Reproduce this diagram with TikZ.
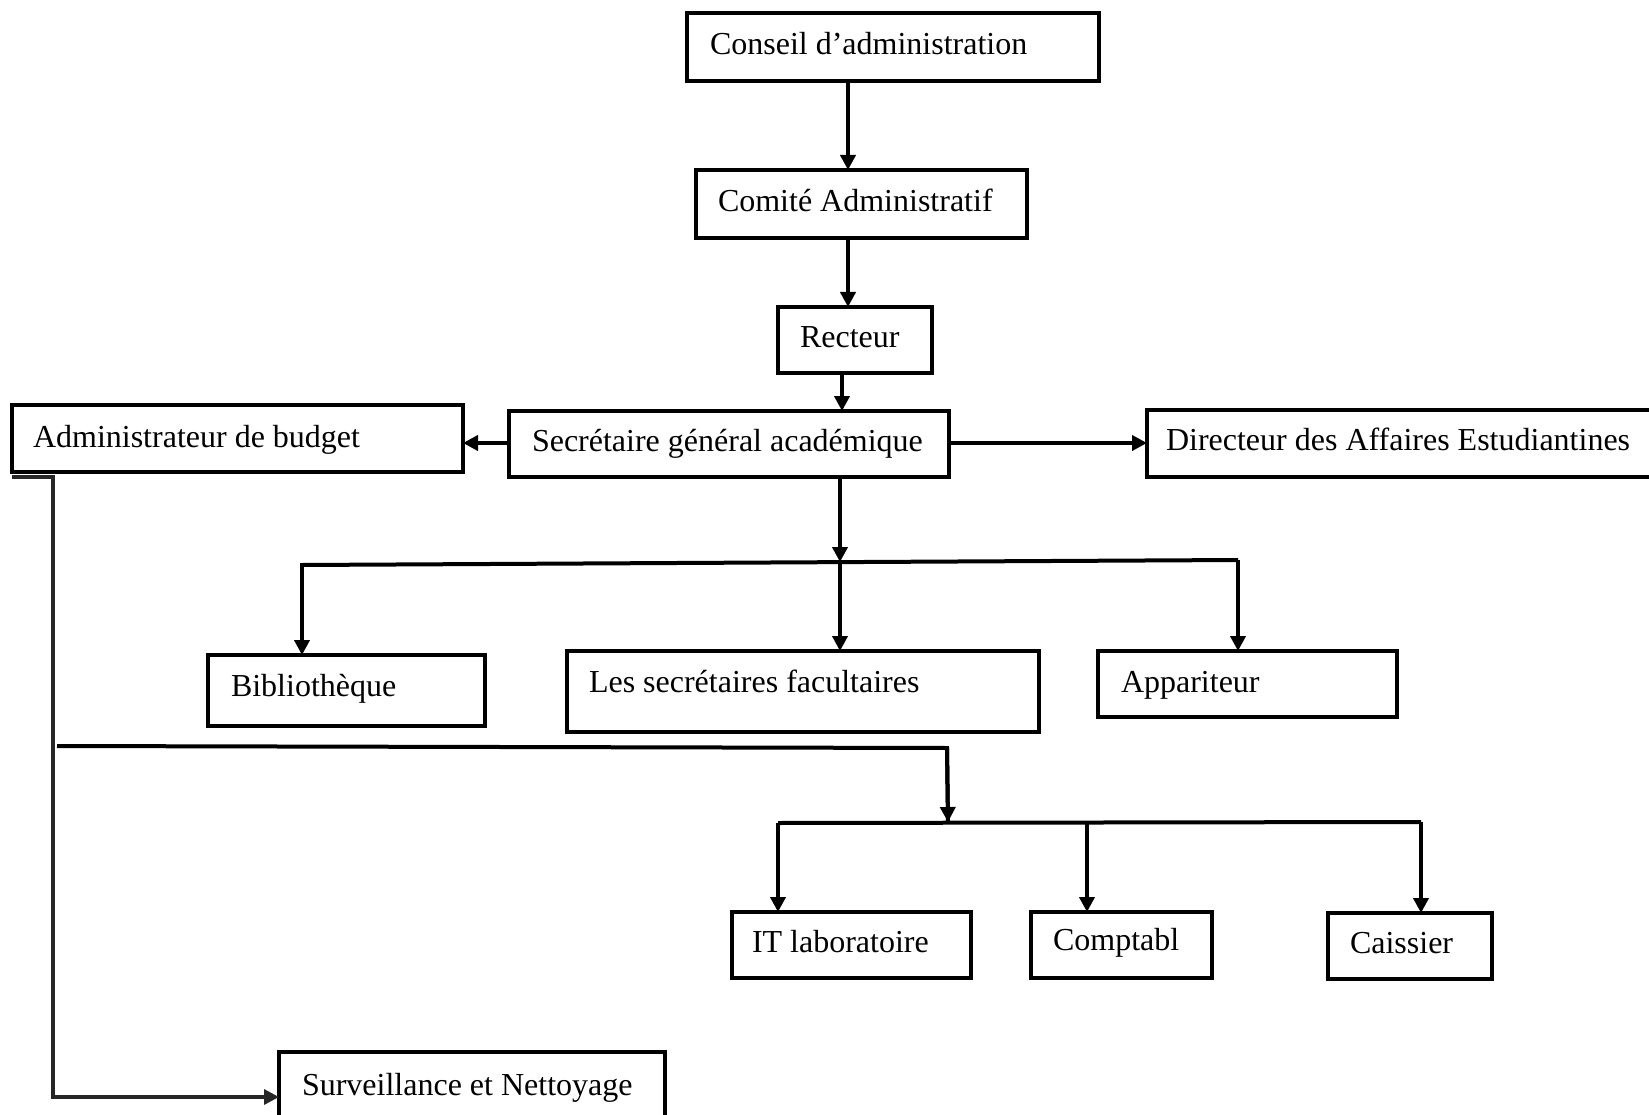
\documentclass[tikz,border=0pt]{standalone}
\usepackage{fontspec}
\setmainfont{Liberation Serif}
\usetikzlibrary{arrows.meta}
\tikzset{
  box/.style={draw=black, line width=3.5pt, rectangle, inner sep=0pt, outer sep=0pt, anchor=north west, fill=white},
  lbl/.style={inner sep=0pt, outer sep=0pt, anchor=base west, font=\fontsize{32}{38}\selectfont},
  ln/.style={draw=black, line width=4pt},
  arr/.style={ln, -{Triangle[width=15pt,length=15pt]}},
  thin/.style={draw=black!85, line width=3.2pt},
  thinarr/.style={thin, -{Triangle[width=15pt,length=15pt]}}
}
\begin{document}
\begin{tikzpicture}[x=1pt,y=-1pt]
\useasboundingbox (0,0) rectangle (1649,1115);
\clip (0,0) rectangle (1649,1115);
\fill[white] (0,0) rectangle (1649,1115);

% boxes
\node[box, minimum width=412pt, minimum height=68pt] (conseil) at (687,13) {};
\node[box, minimum width=331pt, minimum height=68pt] (comite) at (696,170) {};
\node[box, minimum width=154pt, minimum height=66pt] (recteur) at (778,307) {};
\node[box, minimum width=440pt, minimum height=66pt] (sga) at (509,411) {};
\node[box, minimum width=451pt, minimum height=67pt] (budget) at (12,405) {};
\node[box, minimum width=520pt, minimum height=67pt] (dir) at (1147,410) {};
\node[box, minimum width=277pt, minimum height=71pt] (bib) at (208,655) {};
\node[box, minimum width=472pt, minimum height=81pt] (secr) at (567,651) {};
\node[box, minimum width=299pt, minimum height=66pt] (app) at (1098,651) {};
\node[box, minimum width=239pt, minimum height=66pt] (it) at (732,912) {};
\node[box, minimum width=181pt, minimum height=66pt] (compta) at (1031,912) {};
\node[box, minimum width=164pt, minimum height=66pt] (caisse) at (1328,913) {};
\node[box, minimum width=386pt, minimum height=90pt] (surv) at (279,1052) {};

% labels
\node[lbl] (conseil-t) at (710,55) {Conseil d’administration};
\node[lbl] (comite-t) at (718,212) {Comité Administratif};
\node[lbl] (recteur-t) at (800,348) {Recteur};
\node[lbl] (sga-t) at (532,451) {Secrétaire général académique};
\node[lbl] (budget-t) at (33,447) {Administrateur de budget};
\node[lbl] (dir-t) at (1166,450) {Directeur des Affaires Estudiantines};
\node[lbl] (bib-t) at (231,696) {Bibliothèque};
\node[lbl] (secr-t) at (589,692) {Les secrétaires facultaires};
\node[lbl] (app-t) at (1121,692) {Appariteur};
\node[lbl] (it-t) at (752,952) {IT laboratoire};
\node[lbl] (compta-t) at (1053,950) {Comptabl};
\node[lbl] (caisse-t) at (1350,953) {Caissier};
\node[lbl] (surv-t) at (302,1095) {Surveillance et Nettoyage};

% helper coordinates
\coordinate (x1) at (848,0);
\coordinate (x2) at (842,0);
\coordinate (y1) at (0,443);
\coordinate (bl) at (302,565);
\coordinate (br) at (1238,560);
\coordinate (j1) at (840,562);
\coordinate (b1) at (53,477);
\coordinate (b2) at (53,1097);
\coordinate (h1) at (57,746);
\coordinate (h2) at (947,748);
\coordinate (j2) at (948,822);
\coordinate (ml) at (778,823);
\coordinate (mr) at (1421,822);
\coordinate (mc) at (1087,822);

% top chain
\draw[arr] (conseil.south -| x1) -- (comite.north -| x1);
\draw[arr] (comite.south -| x1) -- (recteur.north -| x1);
\draw[arr] (recteur.south -| x2) -- (sga.north -| x2);

% sides
\draw[arr] (sga.west |- y1) -- (budget.east |- y1);
\draw[arr] (sga.east |- y1) -- (dir.west |- y1);

% first branch
\draw[arr] (sga.south -| j1) -- (j1);
\draw[ln] (bl) -- (br);
\draw[ln] (bl) -- ++(0,-2);
\draw[arr] (bl) -- (bib.north -| bl);
\draw[arr] (j1) -- (secr.north -| j1);
\draw[arr] (br) -- (app.north -| br);

% budget branch
\draw[thinarr] (budget.south west |- b1) -- (b1) -- (b2) -- (b2 -| surv.west);
\draw[ln] (h1) -- (h2) -- (j2);
\draw[arr] (h2) -- (j2);
\draw[ln] (ml) -- (mr);
\draw[arr] (ml) -- (it.north -| ml);
\draw[arr] (mc) -- (compta.north -| mc);
\draw[arr] (mr) -- (caisse.north -| mr);
\end{tikzpicture}
\end{document}
